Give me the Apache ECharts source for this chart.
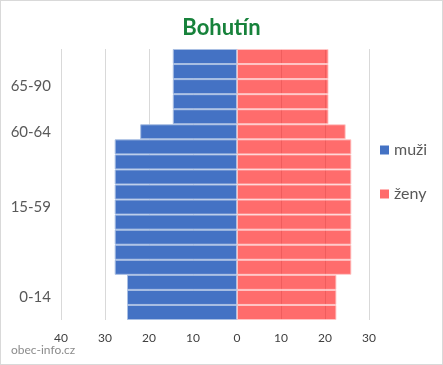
<!DOCTYPE html>
<html><head><meta charset="utf-8">
<script src="https://cdn.jsdelivr.net/npm/echarts@6/dist/echarts.min.js"></script>
<style>
html,body{margin:0;padding:0;background:#fff;}
#c{width:443px;height:365px;box-sizing:border-box;border:1px solid #d9d9d9;}
</style></head>
<body><div id="c"></div>
<script>
// bar categories (bottom to top)
const categories = ['0-4','5-9','10-14','15-19','20-24','25-29','30-34','35-39','40-44','45-49','50-54','55-59','60-64','65-69','70-74','75-79','80-84','85-90'];
// group tick labels shown on the axis (one per bar, blank where none)
const tickLabels = ['','0-14','','','','','','15-59','','','','','60-64','','','65-90','',''];
const muzi = [25,25,25,27.8,27.8,27.8,27.8,27.8,27.8,27.8,27.8,27.8,22,14.6,14.6,14.6,14.6,14.6];
const zeny = [22.6,22.6,22.6,26,26,26,26,26,26,26,26,26,24.7,20.8,20.8,20.8,20.8,20.8];
const xTicks = [-40,-30,-20,-10,0,10,20,30];

const chart = echarts.init(document.getElementById('c'));
const font = 'Lato, "Open Sans", sans-serif';
chart.setOption({
  animation:false,
  title:{text:'Bohutín',left:'center',top:11,textStyle:{color:'#17823b',fontSize:22,fontWeight:'bold',fontFamily:font}},
  legend:{orient:'vertical',left:374,top:136,itemWidth:9,itemHeight:9,itemGap:28,icon:'rect',
    itemStyle:{borderWidth:0},
    textStyle:{fontSize:16,color:'#595959',fontFamily:font}},
  grid:{left:60,right:73,top:48,bottom:44,containLabel:false},
  xAxis:{type:'value',min:xTicks[0],max:xTicks[xTicks.length-1],interval:10,
    axisLine:{show:false},axisTick:{show:false},
    splitLine:{lineStyle:{color:'#d9d9d9',width:1}},
    axisLabel:{formatter:v=>String(Math.abs(v)),color:'#404040',fontSize:12,margin:12,fontFamily:font}},
  yAxis:{type:'category',data:categories,axisLine:{show:false},axisTick:{show:false},
    axisLabel:{interval:0,formatter:(v,i)=>tickLabels[i],color:'#595959',fontSize:15,margin:10,fontFamily:font}},
  series:[
    {name:'muži',type:'bar',stack:'a',barWidth:'100%',data:muzi.map(v=>-v),
      itemStyle:{color:'#4472c4',borderColor:'#a9bfe3',borderWidth:1}},
    {name:'ženy',type:'bar',stack:'a',barWidth:'100%',data:zeny,
      itemStyle:{color:'rgba(255,10,10,0.6)',borderColor:'rgba(255,200,200,0.9)',borderWidth:1}}
  ],
  graphic:[{type:'text',left:10,top:343,style:{text:'obec-info.cz',fill:'#8c8c8c',fontSize:12,fontFamily:font}}]
});
</script></body></html>
